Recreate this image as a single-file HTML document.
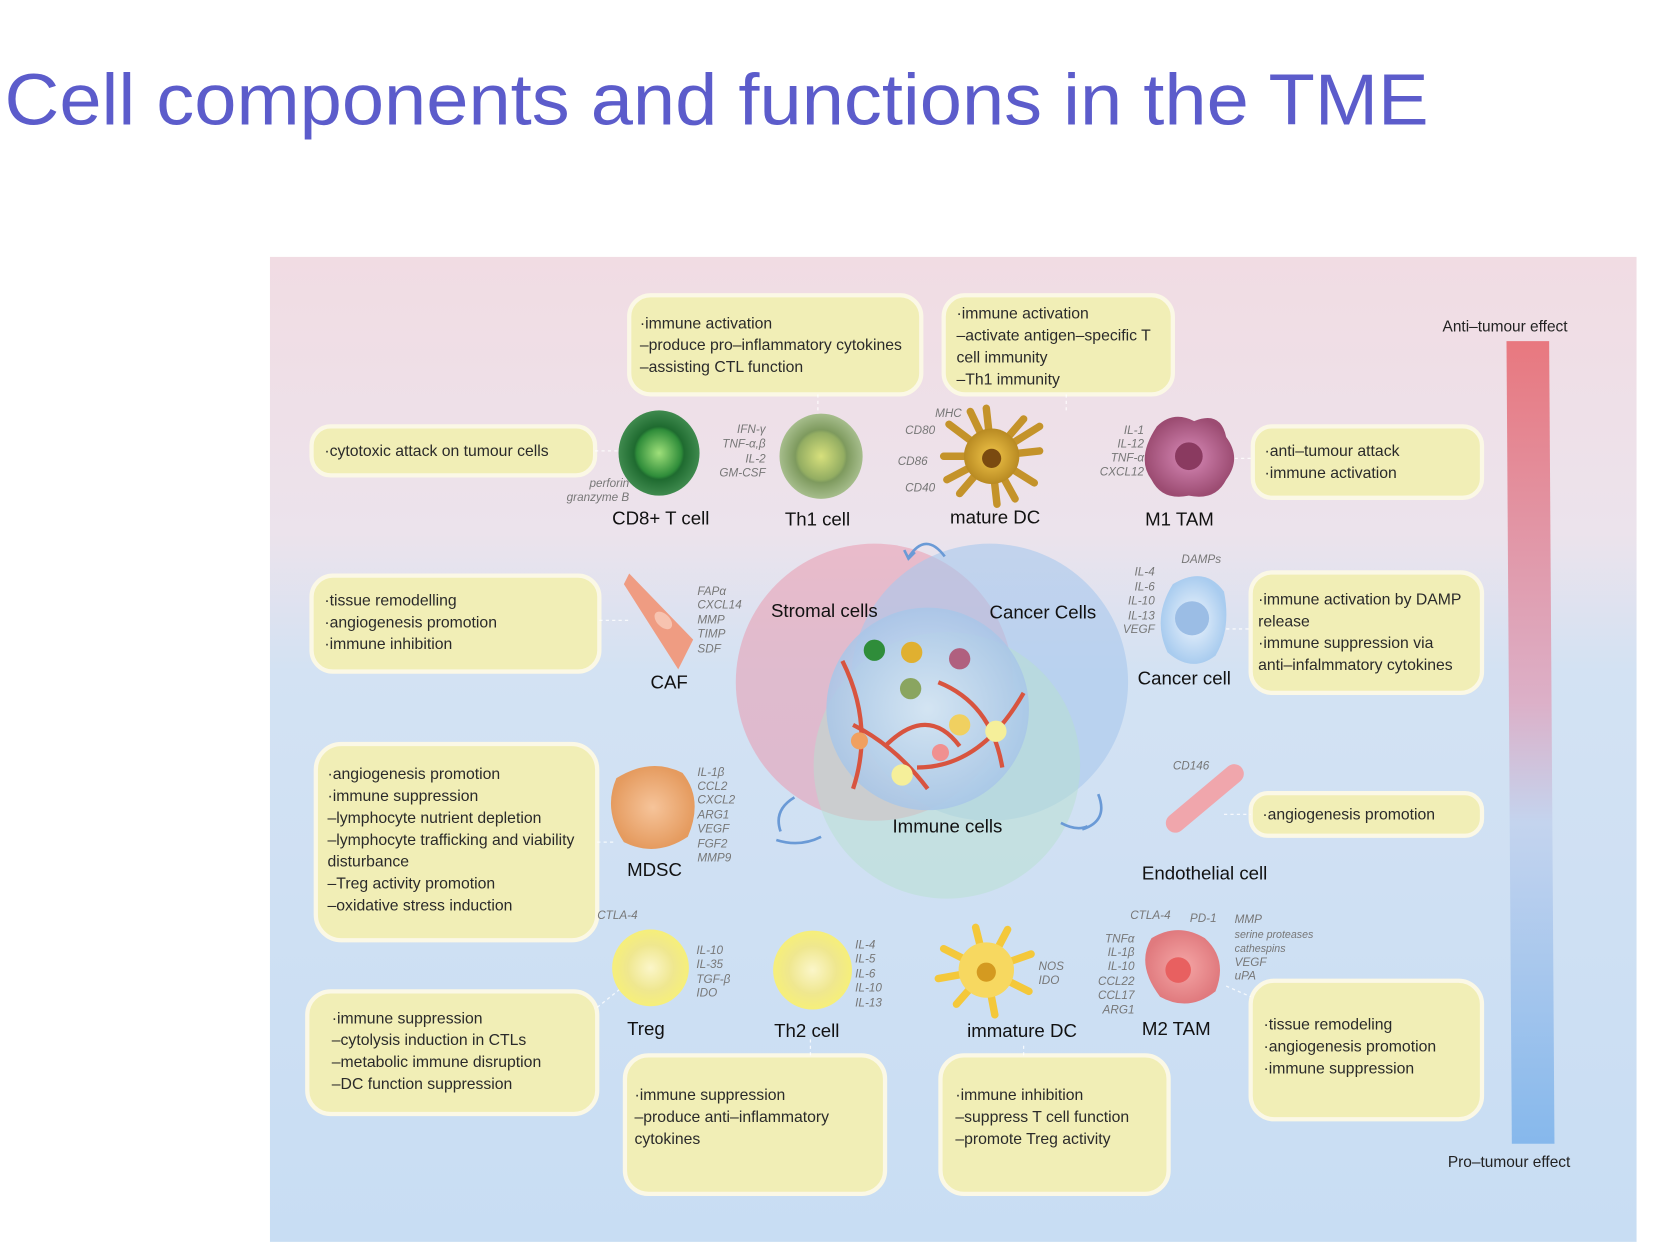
<!DOCTYPE html>
<html><head><meta charset="utf-8"><style>
html,body{margin:0;padding:0;background:#fff;}
svg{display:block;}
text{font-family:"Liberation Sans",sans-serif;}
.bx{fill:#f1eeb6;stroke:#fbf8e6;stroke-width:4;}
.bt{font-size:14.8px;fill:#2a2a2a;}
.lb{font-size:17.5px;fill:#111;}
.sm{font-size:11px;fill:#777;font-style:italic;}
.dl{stroke:#fff;stroke-width:1.2;stroke-dasharray:3 3;fill:none;opacity:.8}
</style></head><body>
<svg width="1672" height="1244" viewBox="0 0 1568 1167" xmlns="http://www.w3.org/2000/svg">
<defs>
<linearGradient id="bg" x1="0" y1="0" x2="0" y2="1">
<stop offset="0" stop-color="#f1dce3"/><stop offset="0.28" stop-color="#ece3ec"/><stop offset="0.42" stop-color="#d3e2f3"/><stop offset="1" stop-color="#c8ddf3"/></linearGradient>
<linearGradient id="bar" x1="0" y1="0" x2="0" y2="1">
<stop offset="0" stop-color="#e8787f"/><stop offset="0.45" stop-color="#dcb0c8"/><stop offset="0.6" stop-color="#c4d4ee"/><stop offset="1" stop-color="#86b8ec"/></linearGradient>
<radialGradient id="g1"><stop offset="0" stop-color="#9fe07a"/><stop offset=".55" stop-color="#2f8d3a"/><stop offset=".62" stop-color="#1f6b30"/><stop offset="1" stop-color="#3f8a4e"/></radialGradient>
<radialGradient id="g2"><stop offset="0" stop-color="#d7e07c"/><stop offset=".55" stop-color="#93ad62"/><stop offset=".62" stop-color="#7e9a5e"/><stop offset="1" stop-color="#a6bd8c"/></radialGradient>
<radialGradient id="gy"><stop offset="0" stop-color="#fbf6c9"/><stop offset=".6" stop-color="#efe78f"/><stop offset="1" stop-color="#f6ef7a"/></radialGradient>
<radialGradient id="gdc"><stop offset="0" stop-color="#f2c64a"/><stop offset="1" stop-color="#b88a22"/></radialGradient>
<radialGradient id="gm1"><stop offset="0" stop-color="#d88ab8"/><stop offset="1" stop-color="#9c4c72"/></radialGradient>
<radialGradient id="gm2"><stop offset="0" stop-color="#f5a6a6"/><stop offset="1" stop-color="#e07a7e"/></radialGradient>
<radialGradient id="gca"><stop offset="0" stop-color="#eef5fd"/><stop offset="1" stop-color="#a9ccef"/></radialGradient>
<radialGradient id="gmd"><stop offset="0" stop-color="#f6c49a"/><stop offset="1" stop-color="#e59b5f"/></radialGradient>
<radialGradient id="gt"><stop offset="0" stop-color="#d8e8f7"/><stop offset="1" stop-color="#a8c6e8"/></radialGradient>
</defs>
<rect width="1568" height="1167" fill="#fff"/>
<text x="4" y="117" font-size="68" fill="#5c5ccb" textLength="1336" lengthAdjust="spacingAndGlyphs">Cell components and functions in the TME</text>
<rect x="253" y="241" width="1282" height="924" fill="url(#bg)"/>

<polygon points="1413,320 1453,320 1458,1073 1418,1073" fill="url(#bar)"/>
<text x="1353" y="311" font-size="14.5" fill="#222">Anti–tumour effect</text>
<text x="1358" y="1095" font-size="14.5" fill="#222">Pro–tumour effect</text>

<rect class="bx" x="292" y="400" width="266" height="46" rx="18"/>
<text class="bt" x="304" y="428">·cytotoxic attack on tumour cells</text>
<rect class="bx" x="590" y="277" width="274" height="93" rx="20"/>
<text class="bt" x="600" y="308">·immune activation<tspan x="600" dy="20.5">–produce pro–inflammatory cytokines</tspan><tspan x="600" dy="20.5">–assisting CTL function</tspan></text>
<rect class="bx" x="885" y="277" width="215" height="93" rx="20"/>
<text class="bt" x="897" y="299">·immune activation<tspan x="897" dy="20.5">–activate antigen–specific T</tspan><tspan x="897" dy="20.5">cell immunity</tspan><tspan x="897" dy="20.5">–Th1 immunity</tspan></text>
<rect class="bx" x="1175" y="400" width="215" height="67" rx="18"/>
<text class="bt" x="1186" y="428">·anti–tumour attack<tspan x="1186" dy="20.5">·immune activation</tspan></text>
<rect class="bx" x="292" y="540" width="270" height="90" rx="20"/>
<text class="bt" x="304" y="568">·tissue remodelling<tspan x="304" dy="20.5">·angiogenesis promotion</tspan><tspan x="304" dy="20.5">·immune inhibition</tspan></text>
<rect class="bx" x="1173" y="537" width="217" height="113" rx="20"/>
<text class="bt" x="1180" y="567">·immune activation by DAMP<tspan x="1180" dy="20.5">release</tspan><tspan x="1180" dy="20.5">·immune suppression via</tspan><tspan x="1180" dy="20.5">anti–infalmmatory cytokines</tspan></text>
<rect class="bx" x="296" y="698" width="264" height="184" rx="24"/>
<text class="bt" x="307" y="731">·angiogenesis promotion<tspan x="307" dy="20.5">·immune suppression</tspan><tspan x="307" dy="20.5">–lymphocyte nutrient depletion</tspan><tspan x="307" dy="20.5">–lymphocyte trafficking and viability</tspan><tspan x="307" dy="20.5">disturbance</tspan><tspan x="307" dy="20.5">–Treg activity promotion</tspan><tspan x="307" dy="20.5">–oxidative stress induction</tspan></text>
<rect class="bx" x="1173" y="744" width="217" height="40" rx="16"/>
<text class="bt" x="1184" y="769">·angiogenesis promotion</text>
<rect class="bx" x="288" y="930" width="272" height="115" rx="22"/>
<text class="bt" x="311" y="960">·immune suppression<tspan x="311" dy="20.5">–cytolysis induction in CTLs</tspan><tspan x="311" dy="20.5">–metabolic immune disruption</tspan><tspan x="311" dy="20.5">–DC function suppression</tspan></text>
<rect class="bx" x="586" y="990" width="244" height="130" rx="22"/>
<text class="bt" x="595" y="1032">·immune suppression<tspan x="595" dy="20.5">–produce anti–inflammatory</tspan><tspan x="595" dy="20.5">cytokines</tspan></text>
<rect class="bx" x="882" y="990" width="214" height="130" rx="22"/>
<text class="bt" x="896" y="1032">·immune inhibition<tspan x="896" dy="20.5">–suppress T cell function</tspan><tspan x="896" dy="20.5">–promote Treg activity</tspan></text>
<rect class="bx" x="1173" y="920" width="217" height="130" rx="22"/>
<text class="bt" x="1185" y="966">·tissue remodeling<tspan x="1185" dy="20.5">·angiogenesis promotion</tspan><tspan x="1185" dy="20.5">·immune suppression</tspan></text>

<path class="dl" d="M558 423H580 M767 370V390 M1000 370V388 M1158 430H1175 M562 582H590 M1150 590H1173 M560 790H575 M1148 764H1173 M560 945L585 925 M760 990V975 M960 990V978 M1150 925L1173 935"/>

<circle cx="820" cy="640" r="130" fill="#e99aae" opacity=".55"/>
<circle cx="928" cy="640" r="130" fill="#a9c8ec" opacity=".6"/>
<circle cx="888" cy="718" r="125" fill="#b7e0cf" opacity=".5"/>
<circle cx="870" cy="665" r="95" fill="url(#gt)" opacity=".85"/>
<path d="M790 620 Q820 680 800 740 M830 700 Q870 660 900 700 M860 720 Q920 720 960 650 M880 640 Q930 660 940 720 M800 680 Q840 700 870 740" stroke="#d8543f" stroke-width="4" fill="none"/>
<circle cx="820" cy="610" r="10" fill="#2f8d3a"/><circle cx="855" cy="612" r="10" fill="#e0b030"/>
<circle cx="900" cy="618" r="10" fill="#b0607f"/><circle cx="854" cy="646" r="10" fill="#8aa560"/>
<circle cx="900" cy="680" r="10" fill="#f0d060"/><circle cx="934" cy="686" r="10" fill="#f5ef9a"/>
<circle cx="846" cy="727" r="10" fill="#f5ef9a"/><circle cx="806" cy="695" r="8" fill="#f0a060"/>
<circle cx="882" cy="706" r="8" fill="#f09090"/>
<text class="lb" x="723" y="579">Stromal cells</text>
<text class="lb" x="928" y="580">Cancer Cells</text>
<text class="lb" x="837" y="781">Immune cells</text>
<path d="M852 523 Q868 498 886 522 M848 516l4 8 6-6 M732 780 Q725 760 745 748 M728 788 Q750 795 770 785 M1030 745 Q1040 770 1015 778 M995 772 Q1010 780 1020 775" stroke="#6a9ad6" stroke-width="2.5" fill="none"/>

<ellipse cx="618" cy="425" rx="38" ry="40" fill="url(#g1)"/>
<ellipse cx="770" cy="428" rx="39" ry="40" fill="url(#g2)"/>
<g stroke="#c4932a" stroke-width="7" stroke-linecap="round">
<path d="M930 428l-40-30 M930 428l-5-45 M930 428l30-35 M930 428l45-5 M930 428l40 25 M930 428l5 45 M930 428l-30 35 M930 428l-45 0 M930 428l-20-42 M930 428l45-28 M930 428l22 40 M930 428l-42 22"/></g>
<circle cx="930" cy="428" r="26" fill="url(#gdc)"/><circle cx="930" cy="430" r="9" fill="#7a4a10"/>
<path d="M1085 400 Q1100 385 1120 395 Q1145 385 1150 410 Q1165 430 1150 450 Q1140 470 1115 465 Q1090 470 1080 450 Q1065 430 1085 400Z" fill="url(#gm1)"/>
<circle cx="1115" cy="428" r="13" fill="#8a3a60"/>
<path d="M1100 548 Q1130 530 1148 555 Q1155 590 1140 615 Q1118 632 1095 612 Q1080 580 1100 548Z" fill="url(#gca)"/>
<circle cx="1118" cy="580" r="16" fill="#9bbde5"/>
<path d="M590 538 L650 600 L636 628 L585 548Z" fill="#ef9c82"/><ellipse cx="622" cy="582" rx="10" ry="6" fill="#f7c3b0" transform="rotate(45 622 582)"/>
<path d="M578 730 Q610 710 640 725 Q660 750 645 785 Q615 805 585 790 Q565 760 578 730Z" fill="url(#gmd)"/>
<rect x="1085" y="740" width="90" height="18" rx="9" fill="#f0a6ac" transform="rotate(-40 1130 749)"/>
<circle cx="610" cy="908" r="36" fill="url(#gy)"/>
<circle cx="762" cy="910" r="37" fill="url(#gy)"/>
<g stroke="#f4c83a" stroke-width="7" stroke-linecap="round">
<path d="M925 910l-40-20 M925 910l-10-40 M925 910l20-38 M925 910l42-15 M925 910l40 20 M925 910l8 42 M925 910l-28 32 M925 910l-45 8"/></g>
<circle cx="925" cy="910" r="26" fill="#f7d860"/><circle cx="925" cy="912" r="9" fill="#d49a20"/>
<path d="M1080 880 Q1105 865 1130 880 Q1152 900 1140 930 Q1115 950 1088 935 Q1065 905 1080 880Z" fill="url(#gm2)"/>
<circle cx="1105" cy="910" r="12" fill="#e86060"/>

<text class="lb" x="574" y="492">CD8+ T cell</text>
<text class="lb" x="736" y="493">Th1 cell</text>
<text class="lb" x="891" y="491">mature DC</text>
<text class="lb" x="1074" y="493">M1 TAM</text>
<text class="lb" x="1067" y="642">Cancer cell</text>
<text class="lb" x="610" y="646">CAF</text>
<text class="lb" x="588" y="822">MDSC</text>
<text class="lb" x="1071" y="825">Endothelial cell</text>
<text class="lb" x="588" y="971">Treg</text>
<text class="lb" x="726" y="973">Th2 cell</text>
<text class="lb" x="907" y="973">immature DC</text>
<text class="lb" x="1071" y="971">M2 TAM</text>

<g class="sm" text-anchor="end">
<text x="718" y="406">IFN-γ</text><text x="718" y="420">TNF-α,β</text><text x="718" y="434">IL-2</text><text x="718" y="447">GM-CSF</text>
<text x="590" y="457">perforin</text><text x="590" y="470">granzyme B</text>
<text x="902" y="391">MHC</text><text x="877" y="407">CD80</text><text x="870" y="436">CD86</text><text x="877" y="461">CD40</text>
<text x="1073" y="407">IL-1</text><text x="1073" y="420">IL-12</text><text x="1073" y="433">TNF-α</text><text x="1073" y="446">CXCL12</text>
<text x="1083" y="540">IL-4</text><text x="1083" y="554">IL-6</text><text x="1083" y="567">IL-10</text><text x="1083" y="581">IL-13</text><text x="1083" y="594">VEGF</text>
</g>
<g class="sm">
<text x="1108" y="528">DAMPs</text>
<text x="654" y="558">FAPα</text><text x="654" y="571">CXCL14</text><text x="654" y="585">MMP</text><text x="654" y="598">TIMP</text><text x="654" y="612">SDF</text>
<text x="654" y="728">IL-1β</text><text x="654" y="741">CCL2</text><text x="654" y="754">CXCL2</text><text x="654" y="768">ARG1</text><text x="654" y="781">VEGF</text><text x="654" y="795">FGF2</text><text x="654" y="808">MMP9</text>
<text x="1100" y="722">CD146</text>
<text x="560" y="862">CTLA-4</text>
<text x="653" y="895">IL-10</text><text x="653" y="908">IL-35</text><text x="653" y="922">TGF-β</text><text x="653" y="935">IDO</text>
<text x="802" y="890">IL-4</text><text x="802" y="903">IL-5</text><text x="802" y="917">IL-6</text><text x="802" y="930">IL-10</text><text x="802" y="944">IL-13</text>
<text x="974" y="910">NOS</text><text x="974" y="923">IDO</text>
<text x="1060" y="862">CTLA-4</text><text x="1116" y="865">PD-1</text>
<text x="1158" y="866">MMP</text><text x="1158" y="880" font-size="10">serine proteases</text><text x="1158" y="893" font-size="10">cathespins</text><text x="1158" y="906">VEGF</text><text x="1158" y="919">uPA</text>
</g>
<g class="sm" text-anchor="end">
<text x="1064" y="884">TNFα</text><text x="1064" y="897">IL-1β</text><text x="1064" y="910">IL-10</text><text x="1064" y="924">CCL22</text><text x="1064" y="937">CCL17</text><text x="1064" y="951">ARG1</text>
</g>
</svg>
</body></html>
